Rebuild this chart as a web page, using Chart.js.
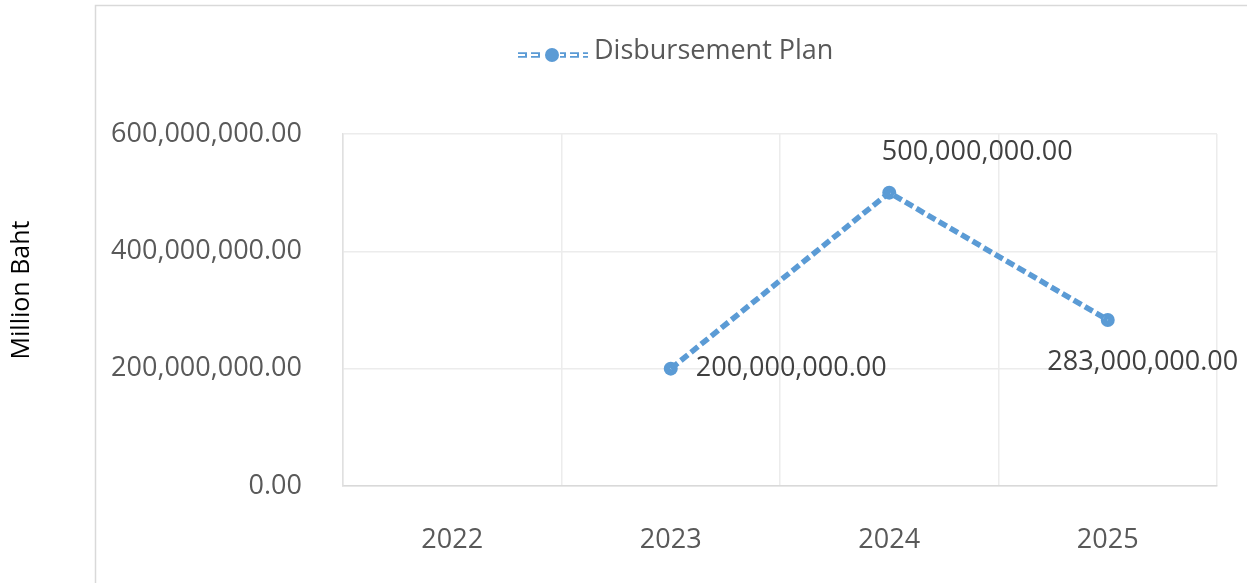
<!DOCTYPE html>
<html lang="en">
<head>
  <meta charset="UTF-8" />
  <title>Disbursement Plan</title>
  <script src="https://cdn.jsdelivr.net/npm/chart.js"></script>
  <style>
    body { margin: 0; background: #fff; }
    #wrap { position: relative; width: 1247px; height: 583px; }
  </style>
</head>
<body>
  <div id="wrap"><canvas id="planChart" width="1247" height="583"></canvas></div>

  <script>
    const years = ['2022', '2023', '2024', '2025'];
    const disbursement = [null, 200000000, 500000000, 283000000];
    const seriesName = 'Disbursement Plan';
    const yTitle = 'Million Baht';

    const blue = '#5B9BD5';
    const fmt = v => Number(v).toLocaleString('en-US', { minimumFractionDigits: 2, maximumFractionDigits: 2 });

    // outer frame + rotated axis title + legend, Excel style
    const decor = {
      id: 'decor',
      beforeDraw(chart) {
        const c = chart.ctx;
        c.save();
        c.strokeStyle = '#d9d9d9';
        c.lineWidth = 1.5;
        c.strokeRect(95.5, 5.5, 1250, 620);

        c.fillStyle = '#000';
        c.font = '25px "Open Sans"';
        c.textAlign = 'center';
        c.textBaseline = 'middle';
        c.translate(22, 290);
        c.rotate(-Math.PI / 2);
        c.fillText(yTitle, 0, 0);
        c.restore();

        // legend
        c.save();
        const y = 55;
        c.strokeStyle = blue;
        c.lineWidth = 5.5;
        c.setLineDash([9, 4]);
        c.beginPath(); c.moveTo(518, y); c.lineTo(588, y); c.stroke();
        c.strokeStyle = '#fff';
        c.lineWidth = 2;
        c.beginPath(); c.moveTo(516, y); c.lineTo(590, y); c.stroke();
        c.setLineDash([]);
        c.fillStyle = '#fff';
        c.fillRect(544, y - 6, 16, 12);
        c.fillStyle = blue;
        c.beginPath(); c.arc(552, y, 7, 0, Math.PI * 2); c.fill();
        c.fillStyle = '#595959';
        c.font = '27px "Open Sans"';
        c.textAlign = 'left';
        c.textBaseline = 'middle';
        c.fillText(seriesName, 594, 51);
        c.restore();
      }
    };

    // value labels next to the points
    const valueLabels = {
      id: 'valueLabels',
      afterDatasetsDraw(chart, args, opts) {
        const meta = chart.getDatasetMeta(2);
        const c = chart.ctx;
        c.save();
        c.fillStyle = '#404040';
        c.font = '27px "Open Sans"';
        c.textBaseline = 'middle';
        meta.data.forEach((pt, i) => {
          const v = disbursement[i];
          if (v == null) return;
          const o = opts.offsets[i];
          c.textAlign = o.align;
          c.fillText(fmt(v), pt.x + o.dx, pt.y + o.dy);
        });
        c.restore();
      }
    };

    new Chart(document.getElementById('planChart'), {
      type: 'line',
      data: {
        labels: years,
        datasets: [
          { data: disbursement, borderColor: blue, borderWidth: 5.5, borderDash: [9, 4], pointRadius: 0, fill: false },
          { data: disbursement, borderColor: '#ffffff', borderWidth: 2, borderDash: [9, 4], pointRadius: 0, fill: false },
          { data: disbursement, showLine: false, pointRadius: 7, pointBackgroundColor: blue, pointBorderColor: blue, pointBorderWidth: 0 }
        ]
      },
      options: {
        responsive: false,
        animation: false,
        layout: { padding: { top: 134, right: 30, left: 0, bottom: 0 } },
        plugins: {
          legend: { display: false },
          tooltip: { enabled: false },
          valueLabels: {
            offsets: [
              { dx: 0, dy: 0, align: 'left' },
              { dx: 25, dy: 0, align: 'left' },
              { dx: 88, dy: -40, align: 'center' },
              { dx: 35, dy: 42, align: 'center' }
            ]
          }
        },
        scales: {
          x: {
            offset: true,
            grid: { offset: true, color: '#ececec', lineWidth: 1.5, drawTicks: false },
            border: { color: '#d9d9d9', width: 1.5 },
            ticks: { color: '#595959', font: { family: '"Open Sans"', size: 27 }, padding: 38 },
            afterFit(s) { s.height = 97; }
          },
          y: {
            min: 0, max: 600000000,
            ticks: { stepSize: 200000000, color: '#595959', font: { family: '"Open Sans"', size: 27 }, padding: 41, callback: v => fmt(v) },
            grid: { color: '#ececec', lineWidth: 1.5, drawTicks: false },
            border: { color: '#e0e0e0', width: 1.5 },
            afterFit(s) { s.width = 343; }
          }
        }
      },
      plugins: [decor, valueLabels]
    });
  </script>
</body>
</html>
